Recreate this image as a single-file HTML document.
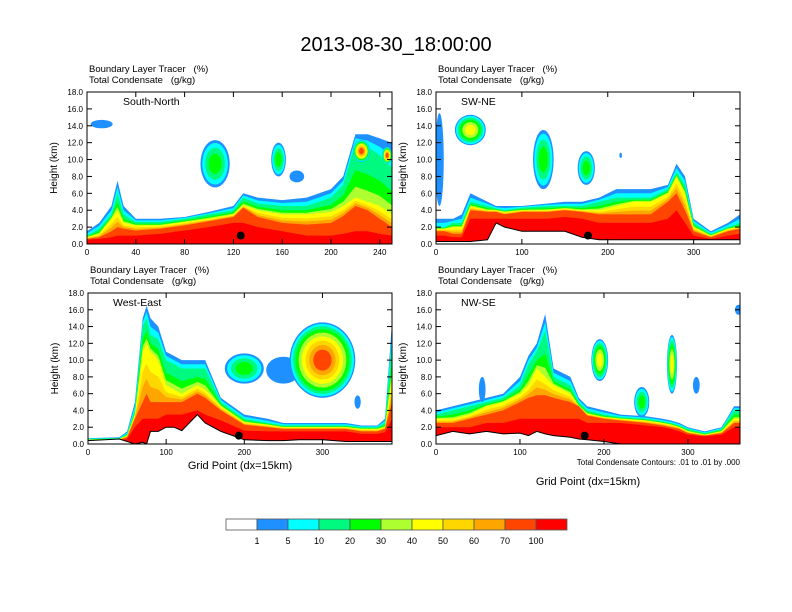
<!DOCTYPE html>
<html><head><meta charset="utf-8"><style>
body{margin:0;background:#fff}
svg{display:block;font-family:"Liberation Sans",Arial,sans-serif}
text{white-space:pre}
</style></head><body>
<svg id="fig" width="792" height="612" viewBox="0 0 792 612">
<text x="396" y="51" font-size="20" text-anchor="middle">2013-08-30_18:00:00</text>
</svg>
<script>
// ---- data ----
const colors=["#FFFFFF","#1E90FF","#00FFFF","#00FA7F","#00FF00","#ADFF2F","#FFFF00","#FFD700","#FFA500","#FF4500","#FF0000"];
const cbLabels=["1","5","10","20","30","40","50","60","70","100"];
const yTicks=[0,2,4,6,8,10,12,14,16,18];
const p1Name="South-North", p2Name="SW-NE", p3Name="West-East", p4Name="NW-SE";
const p1Xmax=250, p2Xmax=354, p3Xmax=389, p4Xmax=362;
const p1XTicks=[0,40,80,120,160,200,240];
const p2XTicks=[0,100,200,300];
const p3XTicks=[0,100,200,300];
const p4XTicks=[0,100,200,300];
const p1Xs=[0,10,20,25,30,40,60,80,100,120,128,140,160,180,200,210,220,230,240,250];
const p1Terrain=[0,0,0,0,0,0,0,0,0,0,0,0,0,0,0,0,0,0,0,0];
const p1Blue=[1.5,2.5,4.5,7.5,4.5,3,3,3.2,3.8,4.5,6,5.5,5.2,5.5,6.5,8,13,13,12.5,12];
const p1Green=[1,1.8,3.5,6,3.5,2.6,2.6,3,3.5,4,5.5,4.8,4.5,4.5,5.5,7,12,11.5,10.5,9];
const p1Yellow=[0.8,1.2,3,4,2.5,2.2,2.2,2.6,3,3.5,4.6,4,3.5,3.5,3.8,4.5,5.5,5,4.5,3.5];
const p1Ored=[0.6,0.8,1.5,2,1.8,1.6,1.8,2.2,2.7,3.2,4.3,3.2,2.5,2.3,2.5,3.3,4.5,4,3,2];
const p1Red=[0.5,0.6,0.8,1,1,1,1.2,1.6,2,2.5,2.5,2,1.5,1,1,1.2,1.5,1.5,1.2,1];
const p1Blobs=[[105,9.5,12,2.8,4],[157,10,6,2,4],[172,8,6,0.7,1],[12,14.2,9,0.5,1],[225,11,7,1.3,9],[246,10.5,4,1,9]];
const p1Dot=[126,1.0];
const p2Xs=[0,10,20,30,40,60,70,80,100,130,150,170,190,210,230,250,270,280,290,300,320,340,354];
const p2Terrain=[0.3,0.3,0.3,0.3,0.3,0.5,2.5,2,1.5,1.5,1.5,0.8,0.5,0.5,0.5,0.5,0.5,0.5,0.5,0.5,0.5,0.5,0.5];
const p2Blue=[3,3,3,3.5,6,5,4.5,4.5,4.5,4.8,5,5,5.5,6.5,6.5,6.5,7,9.5,8,3,1.5,2.5,3.5];
const p2Green=[2,2,2.5,2.5,5,4.5,4.2,4,4.3,4.5,4.5,4.5,5,5.5,5.5,5.5,6.5,8.5,7,2.5,1.2,2,2.5];
const p2Yellow=[1.8,1.8,2,2,4.5,4,4,3.8,4,4,4.2,4,4,4.5,5,5,6,8,6,2,1,1.8,2];
const p2Ored=[1.5,1.5,1.2,1.2,4,3.8,3.8,3.5,3.8,3.8,4,3.8,3.5,3.5,3.5,3.5,5,6,4,1.5,0.8,1.5,1.8];
const p2Red=[1,1,0.8,0.8,3,3,3,3,3,3,3.2,3,2.5,2.5,2.5,2.5,3,4,2.5,1,0.6,1,1.2];
const p2Blobs=[[4,10,5,5.5,1],[40,13.5,18,1.8,6],[125,10,12,3.5,4],[175,9,10,2,4],[215,10.5,1.5,0.3,1]];
const p2Dot=[177,1.0];
const p3Xs=[0,40,50,60,70,75,80,90,100,110,120,140,150,170,200,230,250,270,300,330,350,370,380,389];
const p3Terrain=[0.4,0.6,0.3,0,0.2,0,1.5,1.5,2,2,1.6,3.5,2.5,1.5,0.5,0.4,0.4,0.5,0.5,0.3,0.3,0.3,0.3,0.3];
const p3Blue=[0.7,0.8,1.5,5,15,16.5,15,14,11,10.5,10,10,10,5.5,3.5,3,2.5,2.5,2.5,2.5,2.2,2.2,3,14.5];
const p3Green=[0.6,0.7,1.2,4,14,15,13,12.5,10,9.5,9,9,9,5,3,2.5,2.2,2.2,2.2,2.2,2,2,2.5,12];
const p3Yellow=[0.5,0.6,1,3.5,11,12,11,10,7,6.5,6,7,6.5,4.5,2.6,2.3,2,2,2,2,1.8,1.8,2,8];
const p3Ored=[0.4,0.5,0.8,3,5,6,5,5,5,5,5,6,5.5,4,2.3,2,1.8,1.8,1.8,1.8,1.5,1.5,1.8,5];
const p3Red=[0.3,0.4,0.6,2,3,3,3,3,3.5,3.5,3.5,4,3.5,2.8,1.6,1.5,1.5,1.5,1.5,1.5,1.2,1.2,1.4,3];
const p3Blobs=[[250,8.8,22,1.6,1],[200,9,25,1.8,4],[300,10,42,4.5,9],[345,5,4,0.8,1]];
const p3Dot=[193,1.0];
const p4Xs=[0,20,40,60,80,100,110,120,130,140,160,170,180,200,220,250,270,280,290,300,320,340,355,362];
const p4Terrain=[1,1.5,1.2,1.5,1.2,1.3,1,1.5,1.2,1,0.8,0.6,0.5,0.3,0,0,0,0,0,0,0,0,0,0];
const p4Blue=[4,4.5,5,5.5,6,8,10.5,12,15.5,9,8,5.5,4.5,4,3.5,3.3,3,2.8,2.5,2,1.5,2,4.5,4.5];
const p4Green=[3.5,4,4.5,5,5.5,7,9.5,11,13.5,8,7,5,4,3.5,3.2,3,2.7,2.5,2.2,1.8,1.3,1.8,4,4];
const p4Yellow=[3,3,3.5,4.5,5,6,7,9,8,7,6,4.5,3.6,3.2,3,2.8,2.5,2.3,2,1.5,1.1,1.5,3,3];
const p4Ored=[2.5,2.5,3,3.5,4,5,5.5,5.8,5.8,5.5,5,4.5,3.4,3,2.8,2.5,2.2,2,1.8,1.3,1,1.3,2.5,2.5];
const p4Red=[2,2,2,2.5,2.5,3,3,3,3,3,3,3,2.5,2.5,2.5,2.2,2,1.8,1.5,1.1,0.9,1.1,2,2];
const p4Blobs=[[195,10,10,2.5,6],[245,5,9,1.8,4],[281,9.5,6,3.5,6],[55,6.5,4,1.5,1],[360,16,4,0.6,1],[310,7,4,1,1]];
const p4Dot=[177,1.0];

const NS="http://www.w3.org/2000/svg";
const fig=document.getElementById('fig');
function mk(parent,tag,attrs,txt){const e=document.createElementNS(NS,tag);for(const k in attrs)e.setAttribute(k,attrs[k]);if(txt!==undefined)e.textContent=txt;parent.appendChild(e);return e;}

const panels=[
 {name:p1Name,L:87,T:92,W:305,H:152,xmax:p1Xmax,xt:p1XTicks,xs:p1Xs,ter:p1Terrain,lv:[p1Blue,p1Green,p1Yellow,p1Ored,p1Red],blobs:p1Blobs,dot:p1Dot,xlab:false,key:"south-north"},
 {name:p2Name,L:436,T:92,W:304,H:152,xmax:p2Xmax,xt:p2XTicks,xs:p2Xs,ter:p2Terrain,lv:[p2Blue,p2Green,p2Yellow,p2Ored,p2Red],blobs:p2Blobs,dot:p2Dot,xlab:false,key:"sw-ne"},
 {name:p3Name,L:88,T:293,W:304,H:151,xmax:p3Xmax,xt:p3XTicks,xs:p3Xs,ter:p3Terrain,lv:[p3Blue,p3Green,p3Yellow,p3Ored,p3Red],blobs:p3Blobs,dot:p3Dot,xlab:466,key:"west-east"},
 {name:p4Name,L:436,T:293,W:304,H:151,xmax:p4Xmax,xt:p4XTicks,xs:p4Xs,ter:p4Terrain,lv:[p4Blue,p4Green,p4Yellow,p4Ored,p4Red],blobs:p4Blobs,dot:p4Dot,xlab:482,key:"nw-se"}
];
let cid=0;
panels.forEach(p=>{
 const g=mk(fig,'g',{});
 
 
 const sx=v=>p.L+v/p.xmax*p.W, sy=v=>p.T+p.H-v/18*p.H;
 const clip=mk(g,'clipPath',{id:'c'+(++cid)});
 mk(clip,'rect',{x:p.L,y:p.T,width:p.W,height:p.H});
 const pg=mk(g,'g',{'clip-path':'url(#c'+cid+')'});
 const [b,gr,y,o,r]=p.lv;
 const mix=(a,c,w)=>a.map((v,i)=>v*w+c[i]*(1-w));
 const bands=[[b,1],[mix(b,gr,0.5),2],[gr,3],[mix(gr,y,0.5),4],[mix(gr,y,0.2),5],[y,6],[mix(y,o,0.6),7],[mix(y,o,0.3),8],[o,9],[r,10]];
 bands.forEach(([arr,ci])=>{
  let d='M'+sx(p.xs[0])+','+sy(0);
  p.xs.forEach((xv,i)=>{d+=' L'+sx(xv).toFixed(1)+','+sy(arr[i]).toFixed(1);});
  d+=' L'+sx(p.xs[p.xs.length-1])+','+sy(0)+' Z';
  const e=mk(pg,'path',{d:d,fill:colors[ci]});
  
  
 });
 p.blobs.forEach(bl=>{
  const [bx,by,rx,ry,mx]=bl;
  for(let k=1;k<=mx;k++){
   const f=1-Math.pow((k-1)/mx,1.4)*0.85;
   const e=mk(pg,'ellipse',{cx:sx(bx),cy:sy(by),rx:rx/p.xmax*p.W*f,ry:ry/18*p.H*f,fill:colors[k]});
   
   
  }
 });
 let td='M'+sx(p.xs[0])+','+sy(0);
 p.xs.forEach((xv,i)=>{td+=' L'+sx(xv).toFixed(1)+','+sy(p.ter[i]).toFixed(1);});
 td+=' L'+sx(p.xs[p.xs.length-1])+','+sy(0)+' Z';
 const ter=mk(pg,'path',{d:td,fill:'#fff',stroke:'#000','stroke-width':1});
 
 
 const dot=mk(pg,'circle',{cx:sx(p.dot[0]),cy:sy(p.dot[1]),r:4,fill:'#000'});
 
 
 const fr=mk(g,'rect',{x:p.L,y:p.T,width:p.W,height:p.H,fill:'none',stroke:'#000','stroke-width':1});
 
 
 yTicks.forEach(v=>{
  const yy=sy(v);
  mk(g,'line',{x1:p.L,x2:p.L+5,y1:yy,y2:yy,stroke:'#000'});
  mk(g,'line',{x1:p.L+p.W,x2:p.L+p.W-5,y1:yy,y2:yy,stroke:'#000'});
  const t=mk(g,'text',{x:p.L-4,y:yy+3,'font-size':8,'text-anchor':'end'},v.toFixed(1));
  
  
 });
 p.xt.forEach(v=>{
  const xx=sx(v);
  mk(g,'line',{x1:xx,x2:xx,y1:p.T+p.H,y2:p.T+p.H-5,stroke:'#000'});
  mk(g,'line',{x1:xx,x2:xx,y1:p.T,y2:p.T+5,stroke:'#000'});
  const t=mk(g,'text',{x:xx,y:p.T+p.H+11,'font-size':8,'text-anchor':'middle'},String(v));
  
  
 });
 const yl=mk(g,'text',{x:0,y:0,'font-size':10,'text-anchor':'middle',transform:'translate('+(p.L-30)+','+(p.T+p.H/2)+') rotate(-90)'},'Height (km)');
 
 
 const t1=mk(g,'text',{x:p.L+2,y:p.T-20,'font-size':9.5},'Boundary Layer Tracer   (%)');
 
 
 const t2=mk(g,'text',{x:p.L+2,y:p.T-9,'font-size':9.5},'Total Condensate   (g/kg)');
 
 
 const nm=mk(g,'text',{x:p.L+(p.name==="South-North"?36:25),y:p.T+13,'font-size':10.5},p.name);
 
 
 if(p.xlab){
  const xl=mk(g,'text',{x:p.L+p.W/2,y:p.xlab+3,'font-size':11,'text-anchor':'middle'},'Grid Point (dx=15km)');
  
  
 }
});
const ct=mk(fig,'text',{x:740,y:465,'font-size':8,'text-anchor':'end'},'Total Condensate Contours: .01 to .01 by .000');


const cb=mk(fig,'g',{});


colors.forEach((c,i)=>{
 const r=mk(cb,'rect',{x:226+i*31,y:519,width:31,height:11,fill:c,stroke:'#555','stroke-width':0.8});
 
 
});
cbLabels.forEach((l,i)=>{
 const t=mk(cb,'text',{x:257+i*31,y:544,'font-size':9,'text-anchor':'middle'},l);
 
 
});
</script>
</body></html>
